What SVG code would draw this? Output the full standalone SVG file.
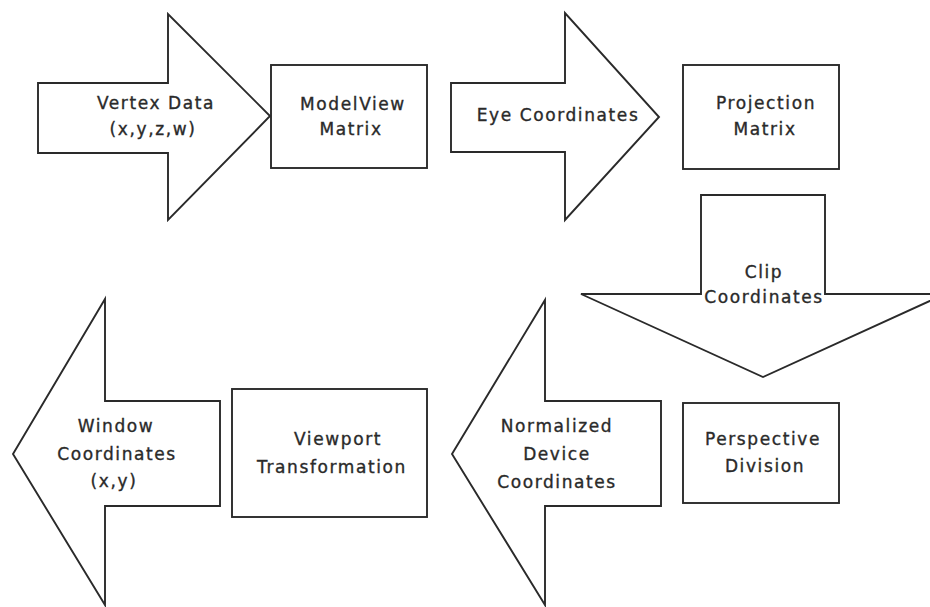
<svg xmlns="http://www.w3.org/2000/svg" width="930" height="607" viewBox="0 0 930 607">
<style>
.s{fill:#fff;stroke:#2a2a2a;stroke-width:1.9;stroke-linejoin:miter}
.t{font-family:"DejaVu Sans","Liberation Sans",sans-serif;font-size:17px;letter-spacing:1.6px;fill:#2a2a2a;stroke:#2a2a2a;stroke-width:0.35;text-anchor:middle}
</style>
<rect width="930" height="607" fill="#fff"/>
<g id="connectors"/>
<g id="vertex-data">
<polygon class="s" points="38,83 168,83 168,14 270,116 168,220 168,153 38,153"/>
<text class="t" x="156" y="109">Vertex Data</text>
<text class="t" x="153" y="135">(x,y,z,w)</text>
</g>
<g id="modelview-matrix">
<rect class="s" x="271" y="65" width="156" height="103"/>
<text class="t" x="353" y="110">ModelView</text>
<text class="t" x="351" y="135">Matrix</text>
</g>
<g id="eye-coordinates">
<polygon class="s" points="451,83 565,83 565,13 659,117 565,220 565,152 451,152"/>
<text class="t" x="558" y="121">Eye Coordinates</text>
</g>
<g id="projection-matrix">
<rect class="s" x="683" y="65" width="156" height="104"/>
<text class="t" x="766" y="109">Projection</text>
<text class="t" x="765" y="135">Matrix</text>
</g>
<g id="clip-coordinates">
<polygon class="s" points="701,195 825,195 825,294 945,294 763,377 581,294 701,294"/>
<text class="t" x="764" y="278">Clip</text>
<text class="t" x="764" y="303">Coordinates</text>
</g>
<g id="perspective-division">
<rect class="s" x="683" y="403" width="156" height="100"/>
<text class="t" x="763" y="445">Perspective</text>
<text class="t" x="765" y="472">Division</text>
</g>
<g id="normalized-device-coordinates">
<polygon class="s" points="661,401 545,401 545,300 452,454 545,605 545,506 661,506"/>
<text class="t" x="557" y="432">Normalized</text>
<text class="t" x="557" y="460">Device</text>
<text class="t" x="557" y="488">Coordinates</text>
</g>
<g id="viewport-transformation">
<rect class="s" x="232" y="389" width="195" height="128"/>
<text class="t" x="338" y="445">Viewport</text>
<text class="t" x="332" y="473">Transformation</text>
</g>
<g id="window-coordinates">
<polygon class="s" points="220,401 105,401 105,299 13,454 105,605 105,506 220,506"/>
<text class="t" x="116" y="432">Window</text>
<text class="t" x="117" y="460">Coordinates</text>
<text class="t" x="114" y="487">(x,y)</text>
</g>
</svg>
